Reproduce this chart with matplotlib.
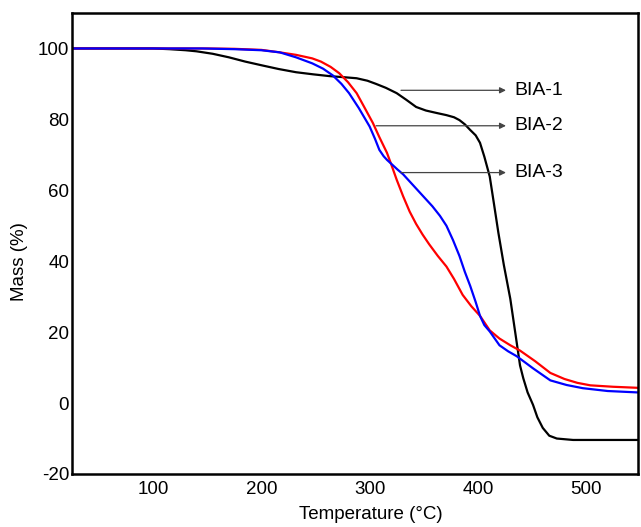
import numpy as np
import matplotlib.pyplot as plt

plt.rcParams['font.family'] = ['Liberation Sans', 'DejaVu Sans']
plt.rcParams['axes.unicode_minus'] = False

# BIA-1 (black)
t_bia1 = [25, 100, 115, 130, 140, 155, 170, 185, 201, 216, 232, 248, 263, 276, 288, 298,
          306, 315, 325, 334, 343, 352, 362, 371, 378, 383, 388, 393, 398, 402, 406, 411,
          415, 419, 424, 430, 435, 439, 442, 446, 451, 455, 460, 466, 473, 488, 520, 548]
m_bia1 = [100, 100, 99.8, 99.5, 99.2, 98.5, 97.5, 96.3, 95.2, 94.2, 93.3, 92.7, 92.2, 91.9, 91.6, 90.9,
          90, 88.9, 87.4, 85.5, 83.5, 82.5, 81.8, 81.2, 80.6, 79.8, 78.6, 77, 75.5, 73.4, 69.5, 63.9,
          56, 48, 39, 29.4, 19, 10.6, 7, 3, -0.5, -4, -7, -9.2, -10, -10.4, -10.4, -10.4]

# BIA-2 (red)
t_bia2 = [25, 150, 175, 200, 217, 232, 247, 255, 264, 272, 280, 288, 295, 303, 309, 316,
          320, 325, 331, 337, 343, 349, 355, 363, 371, 378, 386, 394, 402, 411, 420, 430,
          439, 453, 467, 480, 492, 504, 525, 548]
m_bia2 = [100, 100, 99.9, 99.6, 98.9, 98.2, 97.2, 96.3, 94.8, 93, 90.5, 87.4, 83.5, 79, 75, 70.6,
          67.3, 63, 58.3, 54, 50.5, 47.5, 44.8, 41.5, 38.5, 35, 30.5, 27.3, 24.6, 20.5, 18.2, 16.3,
          14.8, 11.8, 8.5, 6.8, 5.7, 5, 4.6, 4.3]

# BIA-3 (blue)
t_bia3 = [25, 145, 175, 200, 217, 232, 247, 257, 266, 274, 281, 290, 300, 305, 309, 313,
          316, 321, 326, 331, 340, 349, 358, 365, 371, 377, 383, 388, 393, 398, 402, 406,
          411, 420, 428, 436, 451, 467, 482, 497, 520, 548]
m_bia3 = [100, 100, 99.8, 99.5, 98.9, 97.5, 95.8, 94.3, 92.4, 90, 87.4, 83.2, 78, 74.5, 71.4, 69.6,
          68.6, 67.2, 65.8, 64.5, 61.5, 58.5, 55.5, 52.8, 50, 46, 41.5, 37, 33, 28.5, 24.6, 22,
          20.2, 16.3, 14.6, 13.2, 9.8, 6.4, 5.1, 4.2, 3.4, 3]

# arrow labels: name, y level, arrow start temperature
labels = ['BIA-1', 'BIA-2', 'BIA-3']
label_y = [88.2, 78.2, 65]
label_x0 = [329, 306, 329]

xticks = [100, 200, 300, 400, 500]
yticks = [-20, 0, 20, 40, 60, 80, 100]

fig = plt.figure(figsize=(6.41, 5.27), dpi=100)
ax = fig.add_axes([72 / 641, 1 - 474 / 527, (638 - 72) / 641, (474 - 13) / 527])

ax.plot(t_bia1, m_bia1, color='black', lw=1.6)
ax.plot(t_bia2, m_bia2, color='#ff0000', lw=1.6)
ax.plot(t_bia3, m_bia3, color='#0000ff', lw=1.6)

for name, y, x0 in zip(labels, label_y, label_x0):
    ax.annotate('', xy=(426, y), xytext=(x0, y),
                arrowprops=dict(arrowstyle='-|>', color='#444444', lw=0.9,
                                mutation_scale=9, shrinkA=0, shrinkB=0))
    ax.text(434, y, name, fontsize=14, va='center', ha='left')

ax.set_xlim(25, 548)
ax.set_ylim(-20, 110)
ax.set_xticks(xticks)
ax.set_yticks(yticks)
ax.tick_params(axis='both', length=0, labelsize=13.5)
ax.tick_params(axis='x', pad=5)
ax.tick_params(axis='y', pad=2)
for s in ax.spines.values():
    s.set_linewidth(1.8)

ax.set_xlabel('Temperature (°C)', fontsize=13.5)
ax.set_ylabel('Mass (%)', fontsize=13.5)
ax.xaxis.set_label_coords(0.528, -0.069)
ax.yaxis.set_label_coords(-0.078, 0.46)

fig.savefig('out.png', dpi=100)
